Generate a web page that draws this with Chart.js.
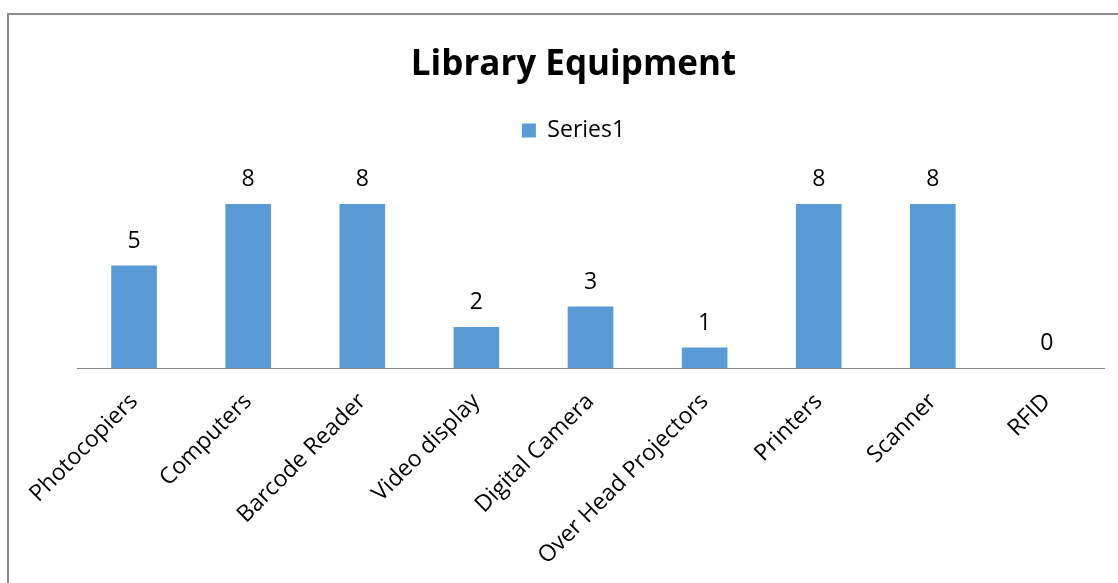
<!DOCTYPE html>
<html>
<head>
<meta charset="utf-8">
<script src="https://cdn.jsdelivr.net/npm/chart.js@4/dist/chart.umd.min.js"></script>
<style>
  html, body { margin: 0; padding: 0; background: #fff; }
  #wrap { position: relative; width: 1118px; height: 583px; overflow: hidden; }
  #frame { position: absolute; left: 7px; top: 13px; width: 1200px; height: 700px;
           border-left: 2px solid #8c8c8c; border-top: 2px solid #8c8c8c; box-sizing: border-box; }
  canvas { position: absolute; left: 0; top: 0; }
</style>
</head>
<body>
<div id="wrap">
  <div id="frame"></div>
  <canvas id="equipChart" width="1118" height="583"></canvas>
</div>
<script>
  var categories = ["Photocopiers", "Computers", "Barcode Reader", "Video display", "Digital Camera",
                    "Over Head Projectors", "Printers", "Scanner", "RFID"];
  var series1 = [5, 8, 8, 2, 3, 1, 8, 8, 0];

  var fontFamily = "'Open Sans', 'Noto Sans', sans-serif";

  // valeurs au-dessus des barres
  var barValues = {
    id: 'barValues',
    afterDatasetsDraw: function (chart) {
      var ctx = chart.ctx;
      var meta = chart.getDatasetMeta(0);
      ctx.save();
      ctx.fillStyle = '#000';
      ctx.font = '23px ' + fontFamily;
      ctx.textAlign = 'center';
      ctx.textBaseline = 'alphabetic';
      meta.data.forEach(function (bar, i) {
        ctx.fillText(String(series1[i]), bar.x, bar.y - 18);
      });
      ctx.restore();
    }
  };

  // un peu plus d'espace sous la légende
  var legendSpace = {
    id: 'legendSpace',
    beforeInit: function (chart) {
      var fit = chart.legend.fit;
      chart.legend.fit = function () {
        fit.bind(chart.legend)();
        this.height += 11;
      };
    }
  };

  var ctx = document.getElementById("equipChart").getContext("2d");
  var equipChart = new Chart(ctx, {
    type: 'bar',
    data: {
      labels: categories,
      datasets: [{
        label: "Series1",
        data: series1,
        backgroundColor: '#5B9BD5',
        borderWidth: 0,
        barPercentage: 0.4,
        categoryPercentage: 1.0
      }]
    },
    options: {
      responsive: false,
      animation: false,
      layout: { padding: { top: 22, left: 43, right: 14, bottom: 0 } },
      plugins: {
        title: {
          display: true,
          text: "Library Equipment",
          color: '#000',
          font: { family: fontFamily, size: 35, weight: 'bold', lineHeight: 1.2 },
          padding: { top: 22, bottom: 23 }
        },
        legend: {
          display: true,
          labels: {
            color: '#000',
            font: { family: fontFamily, size: 23 },
            boxWidth: 14,
            boxHeight: 14,
            padding: 10
          }
        },
        tooltip: { enabled: false }
      },
      scales: {
        x: {
          grid: { display: false, drawTicks: false },
          border: { display: true, color: '#888', width: 1 },
          ticks: {
            color: '#000',
            font: { family: fontFamily, size: 23 },
            minRotation: 45,
            maxRotation: 45,
            padding: 20,
            autoSkip: false
          },
          afterFit: function (scale) {
            scale.height = 215;
            scale.paddingLeft = 77;
            scale.paddingRight = 0;
          }
        },
        y: {
          display: false,
          min: 0,
          max: 10
        }
      }
    },
    plugins: [barValues, legendSpace]
  });
</script>
</body>
</html>
